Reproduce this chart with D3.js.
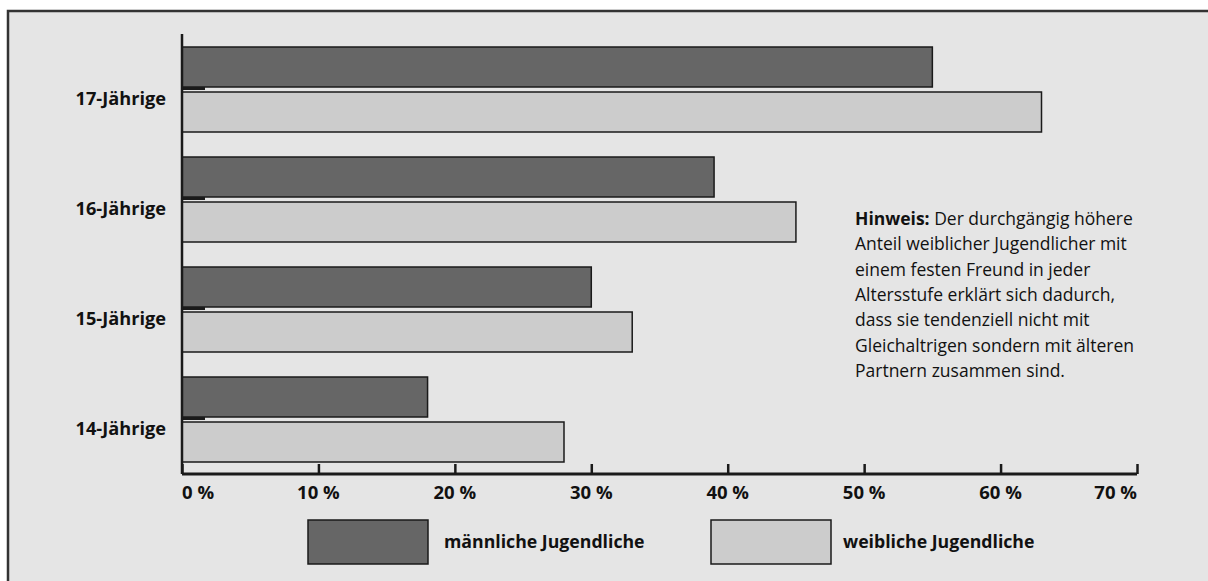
<!DOCTYPE html>
<html>
<head>
<meta charset="utf-8">
<script src="https://cdn.jsdelivr.net/npm/d3@7"></script>
<style>
  html, body { margin: 0; padding: 0; background: #ffffff; }
  svg { display: block; }
  text { font-family: "Open Sans", "Noto Sans", sans-serif; fill: #111; }
</style>
</head>
<body>
<svg id="chart" width="1208" height="581"></svg>
<script>
// Altersgruppen (von oben nach unten)
const ageGroups = ["17-Jährige", "16-Jährige", "15-Jährige", "14-Jährige"];
// Anteil mit festem Freund/fester Freundin in Prozent
const maleValues = [55, 39, 30, 18];
const femaleValues = [63, 45, 33, 28];
const seriesNames = ["männliche Jugendliche", "weibliche Jugendliche"];
const tickValues = [0, 10, 20, 30, 40, 50, 60, 70];
const noteLines = [
  ["Hinweis:", " Der durchgängig höhere"],
  ["", "Anteil weiblicher Jugendlicher mit"],
  ["", "einem festen Freund in jeder"],
  ["", "Altersstufe erklärt sich dadurch,"],
  ["", "dass sie tendenziell nicht mit"],
  ["", "Gleichaltrigen sondern mit älteren"],
  ["", "Partnern zusammen sind."]
];

const colors = { male: "#666666", female: "#cccccc", bg: "#e5e5e5", ink: "#1a1a1a" };

const svg = d3.select("#chart");

// Hintergrundfläche mit Rahmen
svg.append("rect")
  .attr("x", 8).attr("y", 11)
  .attr("width", 1300).attr("height", 700)
  .attr("fill", colors.bg)
  .attr("stroke", "#333").attr("stroke-width", 2.5);

const x = d3.scaleLinear().domain([0, 70]).range([182, 1137]);
const y = d3.scaleBand().domain(ageGroups).range([34, 474]).paddingInner(0).paddingOuter(0);
const barH = 40, barGap = 5, barTop = 13;

const data = ageGroups.map((g, i) => ({ group: g, male: maleValues[i], female: femaleValues[i] }));

const groups = svg.append("g").selectAll("g")
  .data(data).join("g")
  .attr("transform", d => `translate(0,${y(d.group)})`);

groups.append("rect")
  .attr("x", x(0)).attr("y", barTop)
  .attr("width", d => x(d.male) - x(0)).attr("height", barH)
  .attr("fill", colors.male).attr("stroke", colors.ink).attr("stroke-width", 1.5);

groups.append("rect")
  .attr("x", x(0)).attr("y", barTop + barH + barGap)
  .attr("width", d => x(d.female) - x(0)).attr("height", barH)
  .attr("fill", colors.female).attr("stroke", colors.ink).attr("stroke-width", 1.5);

// kurze Kategorie-Markierung an der Achse
groups.append("rect")
  .attr("x", x(0)).attr("y", barTop + barH)
  .attr("width", 23).attr("height", 3)
  .attr("fill", colors.ink);

// Kategorie-Beschriftung
groups.append("text")
  .attr("x", 166).attr("y", barTop + barH + 18)
  .attr("text-anchor", "end")
  .attr("font-size", 18.2).attr("font-weight", 700)
  .text(d => d.group);

// y-Achse
svg.append("line")
  .attr("x1", x(0)).attr("x2", x(0))
  .attr("y1", y.range()[0]).attr("y2", y.range()[1])
  .attr("stroke", colors.ink).attr("stroke-width", 2.5);

// x-Achse
const xAxis = svg.append("g")
  .attr("transform", `translate(0,${y.range()[1]})`)
  .call(d3.axisTop(x).tickValues(tickValues).tickSize(10).tickFormat(""));
xAxis.select(".domain").attr("stroke", colors.ink).attr("stroke-width", 3).attr("d", `M${x(0)},0H${x(70)}`);
xAxis.selectAll(".tick line").attr("stroke", colors.ink).attr("stroke-width", 2.5);

svg.append("g").selectAll("text")
  .data(tickValues).join("text")
  .attr("x", d => x(d))
  .attr("y", y.range()[1] + 25)
  .attr("text-anchor", (d, i) => i === 0 ? "start" : (i === tickValues.length - 1 ? "end" : "middle"))
  .attr("font-size", 18.5).attr("font-weight", 700)
  .text(d => `${d} %`);

// Hinweistext
const note = svg.append("text")
  .attr("x", 855).attr("y", 225)
  .attr("font-size", 17.5);
noteLines.forEach((ln, i) => {
  const t = note.append("tspan").attr("x", 855).attr("y", 225 + i * 25.3);
  if (ln[0]) t.append("tspan").attr("font-weight", 700).text(ln[0]);
  t.append("tspan").text(ln[1]);
});

// Legende
const legend = svg.append("g");
const legendItems = [
  { name: seriesNames[0], fill: colors.male, bx: 308, tx: 444 },
  { name: seriesNames[1], fill: colors.female, bx: 711, tx: 843 }
];
legendItems.forEach(it => {
  legend.append("rect")
    .attr("x", it.bx).attr("y", 520).attr("width", 120).attr("height", 44)
    .attr("fill", it.fill).attr("stroke", colors.ink).attr("stroke-width", 1.5);
  legend.append("text")
    .attr("x", it.tx).attr("y", 548)
    .attr("font-size", 17.7).attr("font-weight", 700)
    .text(it.name);
});
</script>
</body>
</html>
